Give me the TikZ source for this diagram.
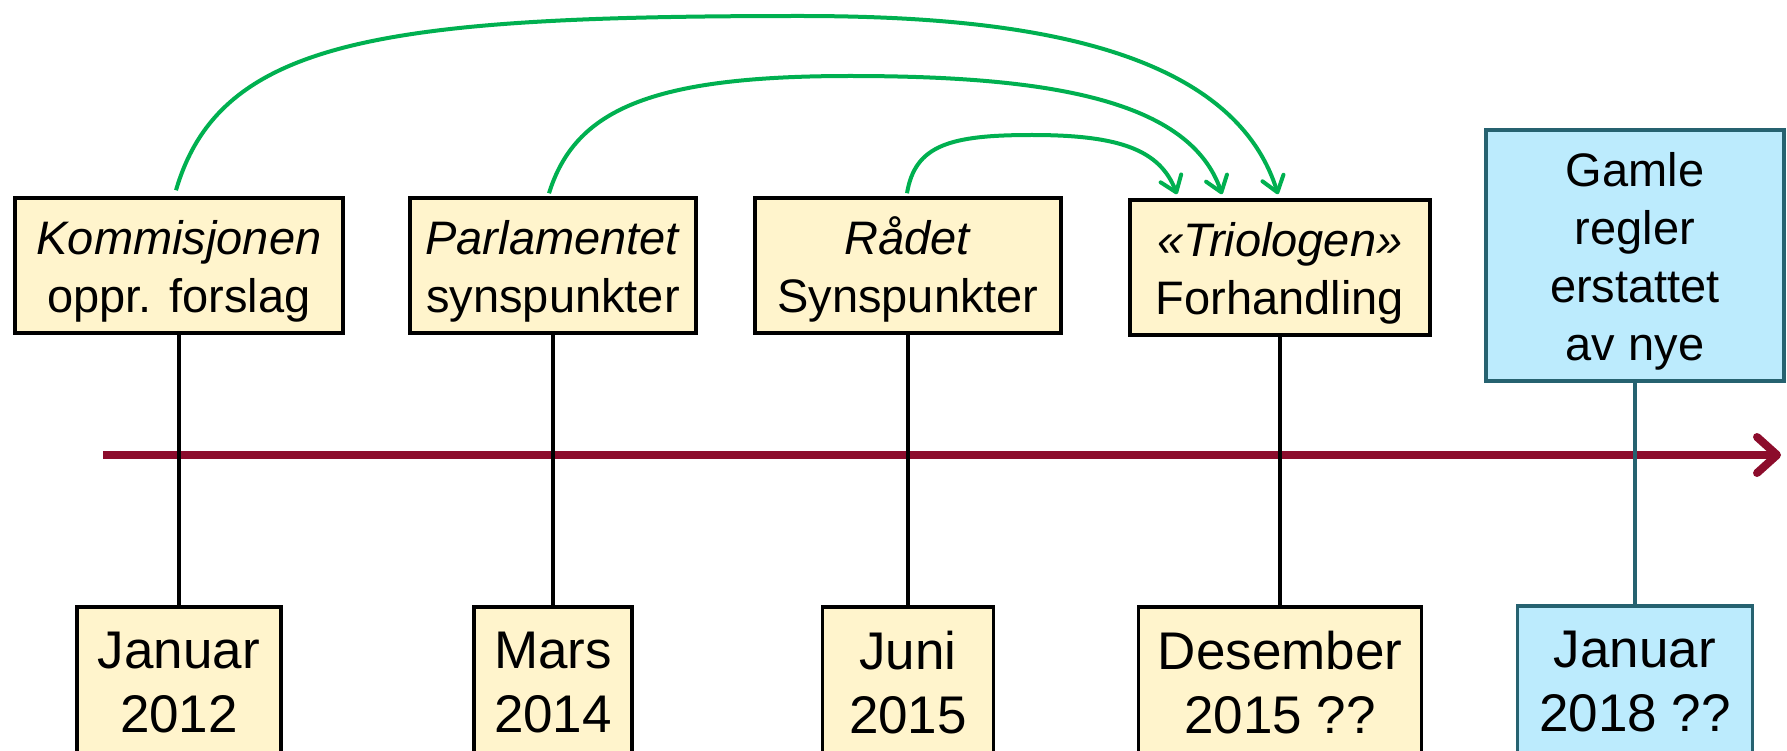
\documentclass[tikz,border=0pt]{standalone}
\usepackage{fontspec}
\setmainfont{Liberation Sans}
\usetikzlibrary{arrows.meta}
\definecolor{eventfill}{RGB}{255,244,204}
\definecolor{rulefill}{RGB}{188,235,253}
\definecolor{ruleline}{RGB}{38,98,112}
\definecolor{axisred}{RGB}{140,12,44}
\definecolor{hopgreen}{RGB}{0,176,80}
\begin{document}
\begin{tikzpicture}[x=1pt,y=-1pt,
  eventbox/.style={draw=black,line width=3.5pt,fill=eventfill,inner sep=0pt,align=center,font=\fontsize{47}{58}\selectfont},
  datebox/.style={eventbox,anchor=north,minimum height=152pt,font=\fontsize{53}{64}\selectfont},
  rulebox/.style={draw=ruleline,fill=rulefill},
  stemline/.style={line width=3.2pt},
  timeaxis/.style={draw=axisred,line width=8pt,-{Straight Barb[length=20pt,width=36pt,round]}},
  hoparrow/.style={draw=hopgreen,line width=4pt,-{Straight Barb[length=15pt,width=22pt,round]}}]
\def\lift{\rule{0pt}{46pt}}
\useasboundingbox (0,0) rectangle (1787,751);
\node[eventbox,minimum width=328pt,minimum height=135pt] (kom) at (179,265.5) {\lift\textit{Kommisjonen}\\oppr. forslag};
\node[eventbox,minimum width=286pt,minimum height=135pt] (par) at (553,265.5) {\lift\textit{Parlamentet}\\synspunkter};
\node[eventbox,minimum width=306pt,minimum height=135pt] (rad) at (908,265.5) {\lift\textit{Rådet}\\Synspunkter};
\node[eventbox,minimum width=300pt,minimum height=135pt] (tri) at (1280,267.5) {\lift\textit{«Triologen»}\\Forhandling};
\node[eventbox,rulebox,minimum width=298pt,minimum height=251pt] (gam) at (1635,255.5) {\lift Gamle\\regler\\erstattet\\av nye};
\node[datebox,minimum width=204pt] (jan12) at (179,605) {Januar\\2012};
\node[datebox,minimum width=158pt] (mar14) at (553,605) {Mars\\2014};
\node[datebox,minimum width=171pt] (jun15) at (908,605) {Juni\\2015};
\node[datebox,minimum width=283pt] (des15) at (1280,605) {Desember\\2015 ??};
\node[datebox,rulebox,minimum width=235pt] (jan18) at (1635,604) {Januar\\2018 ??};
\coordinate (tstart) at (103,455);
\coordinate (tend) at (1781,455);
\draw[timeaxis] (tstart) -- (tend);
\draw[stemline] (kom) -- (jan12);
\draw[stemline] (par) -- (mar14);
\draw[stemline] (rad) -- (jun15);
\draw[stemline] (tri) -- (des15);
\draw[stemline,ruleline] (gam) -- (jan18);
\draw[hoparrow] ([xshift=-3pt,yshift=6pt]kom.north) .. controls (220,40) and (380,16) .. (800,16)
  .. controls (1000,16) and (1230,40) .. ([xshift=-2pt,yshift=4pt]tri.north);
\draw[hoparrow] ([xshift=-4pt,yshift=3pt]par.north) .. controls (575,110) and (650,76) .. (850,76)
  .. controls (1050,76) and (1190,100) .. ([xshift=-58pt,yshift=4pt]tri.north);
\draw[hoparrow] ([xshift=-1pt,yshift=3pt]rad.north) .. controls (915,145) and (950,135) .. (1032,135)
  .. controls (1120,135) and (1160,150) .. ([xshift=-103pt,yshift=4pt]tri.north);
\end{tikzpicture}
\end{document}
